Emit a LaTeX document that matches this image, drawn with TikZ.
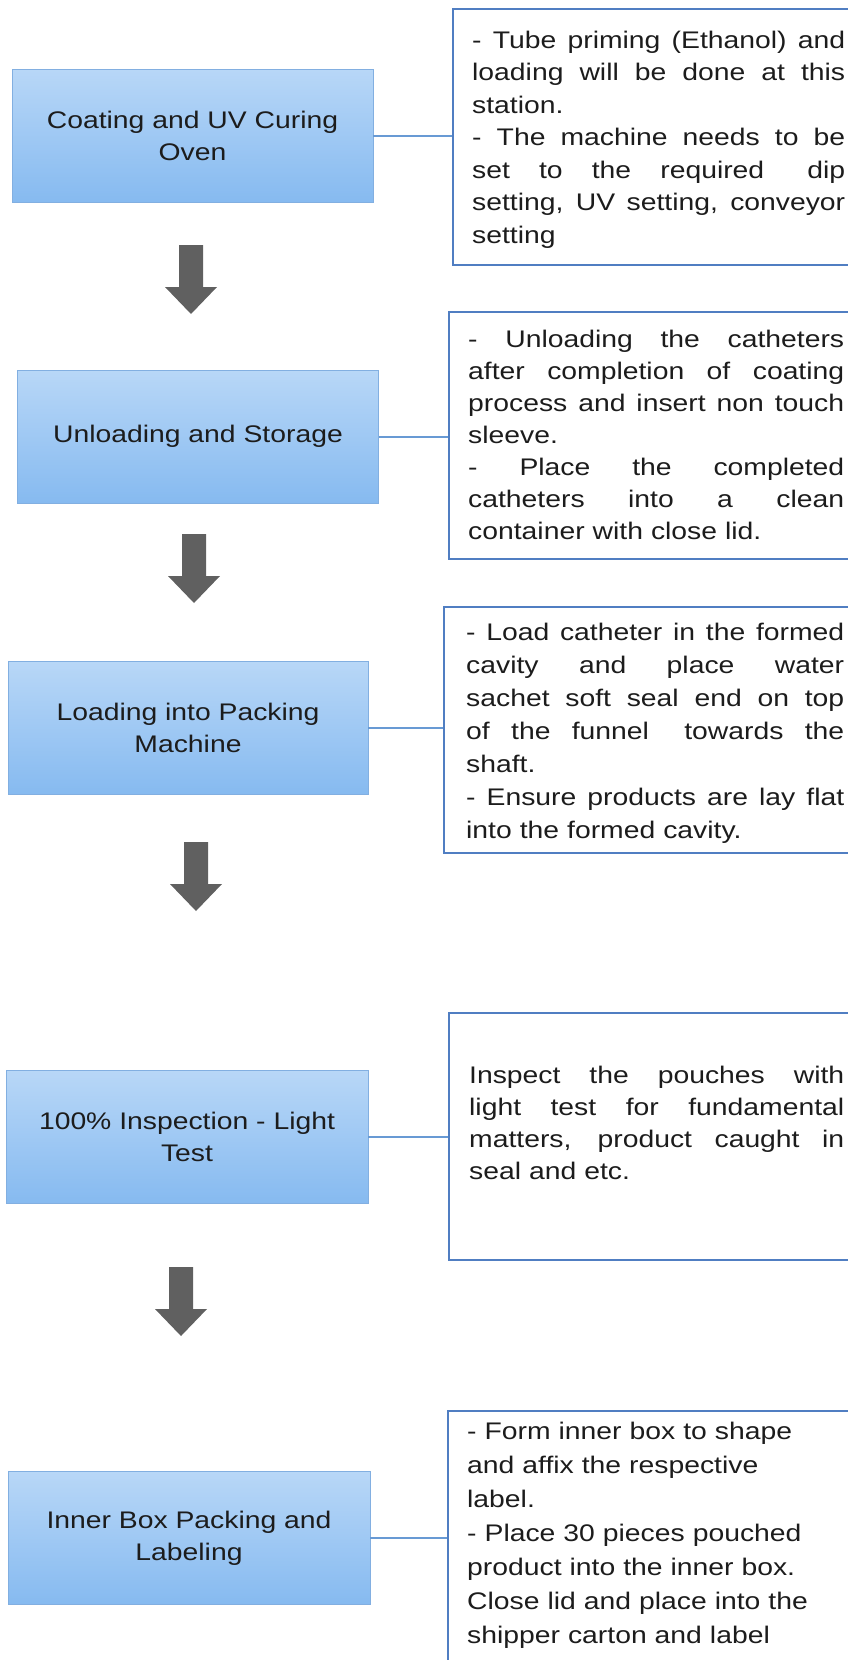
\documentclass[tikz,border=0pt]{standalone}
\usepackage{fontspec}
\setmainfont{Liberation Sans}[FakeStretch=1.18]
\usetikzlibrary{positioning}

\definecolor{boxtop}{RGB}{184,215,247}
\definecolor{boxbot}{RGB}{134,186,240}
\definecolor{boxline}{RGB}{130,175,225}
\definecolor{noteline}{RGB}{80,126,194}
\definecolor{linkline}{RGB}{104,154,212}
\definecolor{arrowgray}{RGB}{96,96,96}
\definecolor{inkgray}{RGB}{28,28,28}
\newcommand{\jl}[1]{\makebox[\linewidth][s]{\spaceskip=\fontdimen2\font plus 1fil\relax #1}}

\begin{document}
\begin{tikzpicture}[x=1pt,y=-1pt,
  stepbox/.style={rectangle,draw=boxline,line width=0.8pt,top color=boxtop,bottom color=boxbot,
    minimum width=361pt,minimum height=133pt,inner sep=0pt,align=center,text=inkgray,
    font=\fontsize{24}{32}\selectfont},
  notebox/.style={rectangle,draw=noteline,line width=2.2pt,minimum width=420pt,anchor=north west},
  notetext/.style={anchor=base west,inner sep=0pt,align=left,text=inkgray,
    font=\fontsize{24}{#1}\selectfont},
  notetext/.default=32,
  link/.style={draw=linkline,line width=2pt}]
\useasboundingbox (0,0) rectangle (848,1660);
\clip (0,0) rectangle (848,1660);

% process steps
\node[stepbox] (b1) at (192.5,135.5) {Coating and UV Curing\\Oven};
\node[stepbox] (b2) at (198,436.5) {Unloading and Storage};
\node[stepbox,minimum width=360pt] (b3) at (188,728) {Loading into Packing\\Machine};
\node[stepbox,minimum width=362pt] (b4) at (187,1137) {100\% Inspection - Light\\Test};
\node[stepbox,minimum width=362pt] (b5) at (189,1538) {Inner Box Packing and\\Labeling};

% note frames
\node[notebox,minimum height=256pt] (n1) at (452,8) {};
\node[notebox,minimum height=247pt] (n2) at (448,311) {};
\node[notebox,minimum height=246pt] (n3) at (443,606) {};
\node[notebox,minimum height=247pt] (n4) at (448,1012) {};
\node[notebox,minimum height=320pt] (n5) at (447,1410) {};

% note texts
\node[notetext=32.5,text width=373pt] (t1) at (472,48) {\jl{- Tube priming (Ethanol) and}\\
  \jl{loading will be done at this}\\
  station.\\
  \jl{- The machine needs to be}\\
  \jl{set to the required\hspace{14pt} dip}\\
  \jl{setting, UV setting, conveyor}\\
  setting};
\node[notetext,text width=376pt] (t2) at (468,347) {\jl{- Unloading the catheters}\\
  \jl{after completion of coating}\\
  \jl{process and insert non touch}\\
  sleeve.\\
  \jl{- Place the completed}\\
  \jl{catheters into a clean}\\
  container with close lid.};
\node[notetext=33,text width=378pt] (t3) at (466,640) {\jl{- Load catheter in the formed}\\
  \jl{cavity and place water}\\
  \jl{sachet soft seal end on top}\\
  \jl{of the funnel\hspace{14pt} towards the}\\
  shaft.\\
  \jl{- Ensure products are lay flat}\\
  into the formed cavity.};
\node[notetext,text width=375pt] (t4) at (469,1083) {\jl{Inspect the pouches with}\\
  \jl{light test for fundamental}\\
  \jl{matters, product caught in}\\
  seal and etc.};
\node[notetext=34,text width=375pt] (t5) at (467,1439) {- Form inner box to shape\\
  and affix the respective\\
  label.\\
  - Place 30 pieces pouched\\
  product into the inner box.\\
  Close lid and place into the\\
  shipper carton and label};

% links between steps and notes
\foreach \i in {1,...,5}
  \draw[link] (b\i.east) -- (b\i.east -| n\i.west);

% block arrows
\foreach \ax/\ay in {191/245,194/534,196/842,181/1267}
  \fill[arrowgray] (\ax-12,\ay) -- (\ax+12,\ay) -- (\ax+12,\ay+42) -- (\ax+26,\ay+42)
    -- (\ax,\ay+69) -- (\ax-26,\ay+42) -- (\ax-12,\ay+42) -- cycle;
\end{tikzpicture}
\end{document}
